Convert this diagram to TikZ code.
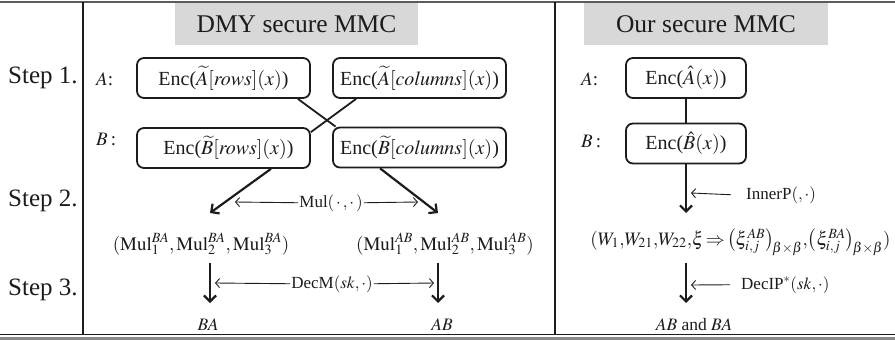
\documentclass[tikz,border=0pt]{standalone}
\usepackage{mathptmx}
\usepackage[no-math]{fontspec}
\setmainfont{Liberation Serif}
\usetikzlibrary{arrows.meta}
\definecolor{ink}{RGB}{28,28,28}
\definecolor{titlegray}{RGB}{216,216,216}
\definecolor{rulegray}{RGB}{90,90,90}
\newcommand\fsz[1]{\fontsize{#1}{#1}\selectfont}
\begin{document}
\begin{tikzpicture}[x=1pt,y=-1pt,
  every node/.style={text=ink,inner sep=0pt},
  title/.style={fill=titlegray,minimum width=243pt,minimum height=42pt,font=\fsz{25.5}},
  steplabel/.style={anchor=base west,font=\fsz{25}},
  party/.style={anchor=base west,font=\fsz{19}},
  encbox/.style={draw=ink,line width=1.8pt,rounded corners=7pt,minimum width=173pt,minimum height=40pt,font=\fsz{20}},
  formula/.style={anchor=base,font=\fsz{19}},
  res/.style={anchor=base,font=\fsz{17.5}},
  lbl/.style={font=\fsz{17},inner sep=1pt},
  plainline/.style={draw=ink,line width=1.8pt},
  bigarrow/.style={draw=ink,line width=2.2pt,-{Straight Barb[length=6pt,width=12pt]}},
  thinarrow/.style={draw=ink,line width=0.9pt,-{Straight Barb[length=4pt,width=9pt]}}]
\useasboundingbox (0,0) rectangle (895,340);

% table rules
\draw[rulegray,line width=2pt] (0,1.5) -- (895,1.5);
\draw[ink,line width=1.3pt] (0,334.5) -- (895,334.5);
\draw[rulegray!70,line width=3pt] (0,338) -- (895,338);
\draw[ink,line width=1.1pt] (83,1.5) -- (83,334.5);
\draw[ink,line width=1.1pt] (555,1.5) -- (555,334.5);

% column headings
\node[title] (dmy) at (296.5,24) {DMY secure MMC};
\node[title,minimum width=244pt] (our) at (706,24) {Our secure MMC};

% step labels
\node[steplabel] (s1) at (8,83) {Step 1.};
\node[steplabel] (s2) at (8,206) {Step 2.};
\node[steplabel] (s3) at (8,295) {Step 3.};

% parties
\node[party] (pA) at (96,85) {$A$:};
\node[party] (pB) at (96,145) {$B$\,:};
\node[party] (qA) at (581,85) {$A$:};
\node[party] (qB) at (581,147) {$B$\,:};

% DMY: encrypted row/column blocks
\node[encbox] (Arows) at (223.5,78) {Enc($\widetilde{A}[\mathit{rows}](x)$)};
\node[encbox] (Acols) at (419.5,78) {Enc($\widetilde{A}[\mathit{columns}](x)$)};
\node[encbox] (Brows) at (223.5,148) {\kern10pt Enc($\widetilde{B}[\mathit{rows}](x)$)};
\node[encbox] (Bcols) at (419.5,147.5) {Enc($\widetilde{B}[\mathit{columns}](x)$)};

\draw[plainline] ([xshift=-13pt]Arows.south east) -- ([xshift=3.5pt]Bcols.north west);
\draw[plainline] ([xshift=24pt]Acols.south west) -- ([yshift=-5pt]Brows.north east);

% DMY: products and decryption
\node[formula] (tBA) at (201,250) {$(\mathrm{Mul}_1^{BA},\mathrm{Mul}_2^{BA},\mathrm{Mul}_3^{BA})$};
\node[formula] (tAB) at (445,250) {$(\mathrm{Mul}_1^{AB},\mathrm{Mul}_2^{AB},\mathrm{Mul}_3^{AB})$};
\node[res] (rBA) at (208,330) {$BA$};
\node[res] (rAB) at (442,330) {$AB$};

\coordinate (m1) at (210,213);
\coordinate (m2) at (438,213);
\draw[bigarrow] ([xshift=-40pt]Brows.south east) -- (m1);
\draw[bigarrow] ([xshift=48pt]Bcols.south west) -- (m2);

\node[lbl,anchor=base] (mul) at (331,207) {Mul$(\,\cdot\,,\cdot\,)$};
\coordinate (mulL) at (235,202);
\coordinate (mulR) at (418,202);
\draw[thinarrow] (mul.west) -- (mulL);
\draw[thinarrow] (mul.east) -- (mulR);

\coordinate (d1a) at (210,263);
\coordinate (d1b) at (210,303);
\coordinate (d2a) at (438,263);
\coordinate (d2b) at (438,303);
\draw[bigarrow] (d1a) -- (d1b);
\draw[bigarrow] (d2a) -- (d2b);

\node[lbl,anchor=base] (decm) at (332,288) {DecM$(sk,\cdot)$};
\coordinate (decL) at (215,283);
\coordinate (decR) at (434,283);
\draw[thinarrow] (decm.west) -- (decL);
\draw[thinarrow] (decm.east) -- (decR);

% our scheme
\node[encbox,minimum width=120pt] (Ahat) at (686,78) {Enc($\hat{A}(x)$)};
\node[encbox,minimum width=120pt] (Bhat) at (686,143.5) {Enc($\hat{B}(x)$)};
\draw[plainline] (Ahat) -- (Bhat);

\coordinate (ip) at (686,213);
\draw[bigarrow] (Bhat.south) -- (ip);
\node[lbl,anchor=base west] (inner) at (745,199) {InnerP$(,\cdot)$};
\coordinate (ipT) at (691,193);
\draw[thinarrow] ([xshift=-14pt]inner.west) -- (ipT);

\node[formula] (xi) at (740.5,245) {$(W_1,\!W_{21},\!W_{22},\!\xi\,{\Rightarrow}\,\bigl(\xi_{i,j}^{AB}\bigr)_{\!\beta\times\beta},\!\bigl(\xi_{i,j}^{BA}\bigr)_{\!\beta\times\beta})$};

\coordinate (d3a) at (686,263);
\coordinate (d3b) at (686,303);
\draw[bigarrow] (d3a) -- (d3b);
\node[lbl,anchor=base west] (decip) at (740,289) {DecIP$^{*}(sk,\cdot)$};
\coordinate (dipT) at (691,285);
\draw[thinarrow] ([xshift=-10pt]decip.west) -- (dipT);

\node[res] (both) at (694,330) {$AB$ and $BA$};
\end{tikzpicture}
\end{document}
